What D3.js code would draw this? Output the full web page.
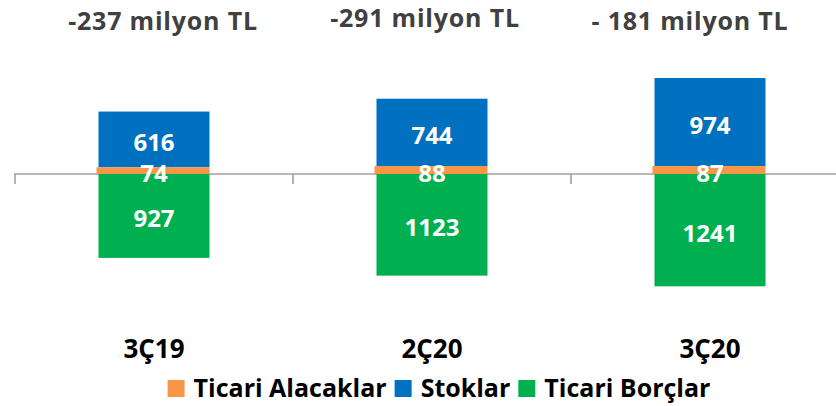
<!DOCTYPE html>
<html>
<head>
<meta charset="utf-8">
<script src="https://cdn.jsdelivr.net/npm/d3@7"></script>
<style>
  body { margin: 0; background: #fff; }
  svg { display: block; font-family: 'Open Sans', sans-serif; font-weight: 700; }
</style>
</head>
<body>
<div id="chart"></div>
<script>
(() => {
  const categories = ['3Ç19', '2Ç20', '3Ç20']
  const alacaklar = [74, 88, 87]
  const stoklar = [616, 744, 974]
  const borclar = [927, 1123, 1241]
  const totals = ['-237 milyon TL', '-291 milyon TL', '- 181 milyon TL']
  const seriesNames = ['Ticari Alacaklar', 'Stoklar', 'Ticari Borçlar']
  const colors = ['#F79646', '#0070C0', '#00B050']

  const width = 836
  const height = 406
  // title placement is a bit off-centre in the original
  const titleX = [163, 425, 690]
  const titleY = [30, 27, 30]

  const svg = d3.select('#chart')
    .append('svg')
      .attr('width', width)
      .attr('height', height)

  // one band per category, ticks between them
  const xScale = d3.scaleBand()
    .domain(categories)
    .range([15, 849])
    .paddingInner(0.6)
    .paddingOuter(0.3)
  const step = xScale.step()
  const barWidth = 111
  const center = c => xScale(c) + xScale.bandwidth() / 2

  const yScale = d3.scaleLinear()
    .domain([-1300, 1100])
    .range([174 + 1300 * 0.0905, 174 - 1100 * 0.0905])

  const axis = svg.append('g')
    .attr('transform', `translate(0,${yScale(0)})`)
  axis.append('line')
    .attr('x1', 14).attr('x2', width)
    .attr('stroke', '#A0A0A0').attr('stroke-width', 1.6)
  d3.range(categories.length + 1).forEach(i => {
    axis.append('line')
      .attr('x1', 15 + step * i).attr('x2', 15 + step * i)
      .attr('y1', 0).attr('y2', 10)
      .attr('stroke', '#A0A0A0').attr('stroke-width', 1.6)
  })

  const bars = svg.append('g')
  categories.forEach((c, i) => {
    const x0 = center(c) - barWidth / 2
    const segs = [
      { v0: 0, v1: alacaklar[i], color: colors[0], label: alacaklar[i], extra: 2 },
      { v0: alacaklar[i], v1: alacaklar[i] + stoklar[i], color: colors[1], label: stoklar[i], extra: 0 },
      { v0: 0, v1: -borclar[i], color: colors[2], label: borclar[i], extra: 0 }
    ]
    // blue & green first, orange on top
    ;[segs[1], segs[2], segs[0]].forEach(s => {
      const yTop = yScale(Math.max(s.v0, s.v1))
      const yBot = yScale(Math.min(s.v0, s.v1))
      bars.append('rect')
        .attr('x', x0 - s.extra)
        .attr('y', yTop)
        .attr('width', barWidth + s.extra)
        .attr('height', yBot - yTop)
        .attr('fill', s.color)
    })
    segs.forEach(s => {
      const yMid = (yScale(s.v0) + yScale(s.v1)) / 2
      bars.append('text')
        .attr('x', center(c))
        .attr('y', yMid + 2)
        .attr('text-anchor', 'middle')
        .attr('dominant-baseline', 'central')
        .attr('fill', '#fff')
        .attr('font-size', 24)
        .text(s.label)
    })
  })

  // totals above
  svg.append('g').selectAll('text')
    .data(totals)
    .join('text')
      .attr('x', (d, i) => titleX[i])
      .attr('y', (d, i) => titleY[i])
      .attr('text-anchor', 'middle')
      .attr('fill', '#404040')
      .attr('font-size', 25)
      .attr('letter-spacing', 0.8)
      .text(d => d)

  // category labels
  svg.append('g').selectAll('text')
    .data(categories)
    .join('text')
      .attr('x', d => center(d))
      .attr('y', 358)
      .attr('text-anchor', 'middle')
      .attr('fill', '#000')
      .attr('font-size', 26)
      .text(d => d)

  // legend, centred under the chart
  const legend = svg.append('g')
  let lx = 0
  seriesNames.forEach((name, i) => {
    legend.append('rect')
      .attr('x', lx).attr('y', 380)
      .attr('width', 17).attr('height', 17)
      .attr('fill', colors[i])
    const t = legend.append('text')
      .attr('x', lx + 26)
      .attr('y', 397)
      .attr('fill', '#000')
      .attr('font-size', 25)
      .text(name)
    lx += 26 + t.node().getComputedTextLength() + 8
  })
  const lw = lx - 8
  legend.attr('transform', `translate(${439 - lw / 2},0)`)
})()
</script>
</body>
</html>
